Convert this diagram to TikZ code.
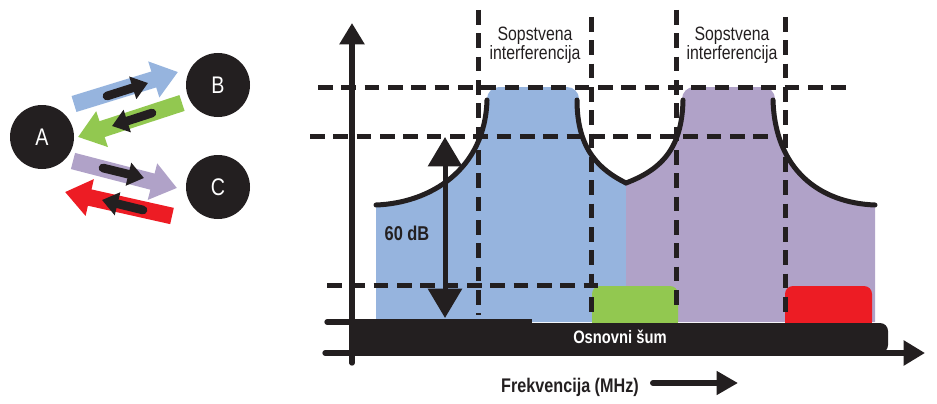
\documentclass[tikz,border=0pt]{standalone}
\usepackage{fontspec}
\setmainfont{Liberation Sans}[FakeStretch=0.82]
\usetikzlibrary{arrows.meta}
\definecolor{cblue}{RGB}{150,180,222}
\definecolor{cpurple}{RGB}{176,162,200}
\definecolor{cgreen}{RGB}{146,200,80}
\definecolor{cred}{RGB}{237,28,36}
\definecolor{cblack}{RGB}{35,31,32}
\begin{document}
\begin{tikzpicture}[x=0.75pt,y=-0.75pt,
  dashline/.style={cblack,line width=3.75pt,dash pattern=on 11pt off 6.5pt},
  curveline/.style={cblack,line width=3.75pt,line cap=round},
  axisline/.style={cblack,line width=4pt,line cap=round},
  axishead/.style={-{Triangle[width=18pt,length=16pt]}},
  dbarrow/.style={cblack,line width=3.75pt,{Triangle[width=25pt,length=22pt]}-{Triangle[width=25pt,length=22pt]}},
  broad/.style={line width=12.5pt,-{Triangle[width=27pt,length=19pt]}},
  inner/.style={cblack,line width=6.5pt,line cap=round,-{Triangle[width=17pt,length=12pt]}},
  circ/.style={circle,fill=cblack,minimum size=48pt,inner sep=0pt,text=white,font=\fontsize{18}{20}\selectfont},
  lbl/.style={inner sep=0pt,text=cblack}]
\useasboundingbox (0,0) rectangle (937,403);

% ---- spectrum fills ----
\fill[cblue] (376,322) -- (376,205) .. controls (430,203) and (485,170) .. (487,100)
  -- (577,100) .. controls (577,150) and (600,170) .. (626,183) -- (626,322) -- cycle;
\fill[cblue,rounded corners=9pt] (487,87) rectangle (579,140);
\fill[cpurple] (626,322) -- (626,183) .. controls (660,170) and (682,150) .. (683,100)
  -- (773,100) .. controls (775,170) and (820,203) .. (875,205) -- (875,322) -- cycle;
\fill[cpurple,rounded corners=9pt] (682,87) rectangle (775,140);
\fill[cgreen,rounded corners=6pt] (592,286) rectangle (678,330);
\fill[cred,rounded corners=6pt] (785,286) rectangle (872,330);

% ---- dashed guide lines ----
\draw[dashline] (318,87) -- (850,87);
\draw[dashline] (310,136) -- (775,136);
\draw[dashline] (327,285) -- (600,285);
\draw[dashline] (478,10) -- (478,315);
\draw[dashline] (591,17) -- (591,320);
\draw[dashline] (676,10) -- (676,313);
\draw[dashline] (785,17) -- (785,320);

% ---- curves ----
\draw[curveline] (376,205) .. controls (430,203) and (485,170) .. (487,100);
\draw[curveline] (577,100) .. controls (577,150) and (600,170) .. (626,183)
  .. controls (660,170) and (682,150) .. (683,100);
\draw[curveline] (773,100) .. controls (775,170) and (820,203) .. (875,205);

% ---- noise floor bar ----
\fill[cblack] (352,319) rectangle (532,353);
\fill[cblack,rounded corners=6pt] (520,323) rectangle (888,353);
\node[lbl,text=white,anchor=base,font=\bfseries\fontsize{13.5}{15}\selectfont] (sum) at (620,343) {Osnovni šum};

% ---- axes ----
\coordinate (yorig) at (352,363);
\coordinate (ytop) at (352,23);
\coordinate (xorig) at (325,353);
\coordinate (xend) at (925,353);
\draw[axisline,axishead] (yorig) -- (ytop);
\draw[axisline,axishead] (xorig) -- (xend);
\coordinate (tickl) at (327,322);
\coordinate (tickr) at (352,322);
\draw[axisline] (tickl) -- (tickr);

% ---- 60 dB arrow ----
\coordinate (dbtop) at (445,137);
\coordinate (dbbot) at (445,318);
\draw[dbarrow] (dbtop) -- (dbbot);
\node[lbl,anchor=base,font=\bfseries\fontsize{15}{17}\selectfont] (db) at (407,240) {60 dB};

% ---- labels ----
\node[lbl,align=center,font=\fontsize{14.5}{12.75}\selectfont] (si1) at (535,45) {Sopstvena\\interferencija};
\node[lbl,align=center,font=\fontsize{14.5}{12.75}\selectfont] (si2) at (732,45) {Sopstvena\\interferencija};
\node[lbl,anchor=base,font=\bfseries\fontsize{14.8}{17}\selectfont] (freq) at (570,392) {Frekvencija (MHz)};
\coordinate (fa1) at (653,383);
\coordinate (fa2) at (738,383);
\draw[cblack,line width=4.5pt,line cap=round,-{Triangle[width=17pt,length=16pt]}] (fa1) -- (fa2);

% ---- left: nodes and links ----
\node[circ] (A) at (42,137) {A};
\node[circ] (B) at (218,85) {B};
\node[circ] (C) at (218,187) {C};

\coordinate (b1) at (74,104);  \coordinate (b2) at (178,72);
\coordinate (g1) at (182,103); \coordinate (g2) at (78,137);
\coordinate (p1) at (73,161);  \coordinate (p2) at (177,188);
\coordinate (r1) at (172,216); \coordinate (r2) at (65,192);
\draw[broad,cblue] (b1) -- (b2);
\draw[broad,cgreen] (g1) -- (g2);
\draw[broad,cpurple] (p1) -- (p2);
\draw[broad,cred] (r1) -- (r2);

\coordinate (bi1) at (107,96);  \coordinate (bi2) at (148,83);
\coordinate (gi1) at (152,113); \coordinate (gi2) at (112,126);
\coordinate (pi1) at (103,168); \coordinate (pi2) at (144,178);
\coordinate (ri1) at (143,210); \coordinate (ri2) at (102,200);
\draw[inner] (bi1) -- (bi2);
\draw[inner] (gi1) -- (gi2);
\draw[inner] (pi1) -- (pi2);
\draw[inner] (ri1) -- (ri2);
\end{tikzpicture}
\end{document}
